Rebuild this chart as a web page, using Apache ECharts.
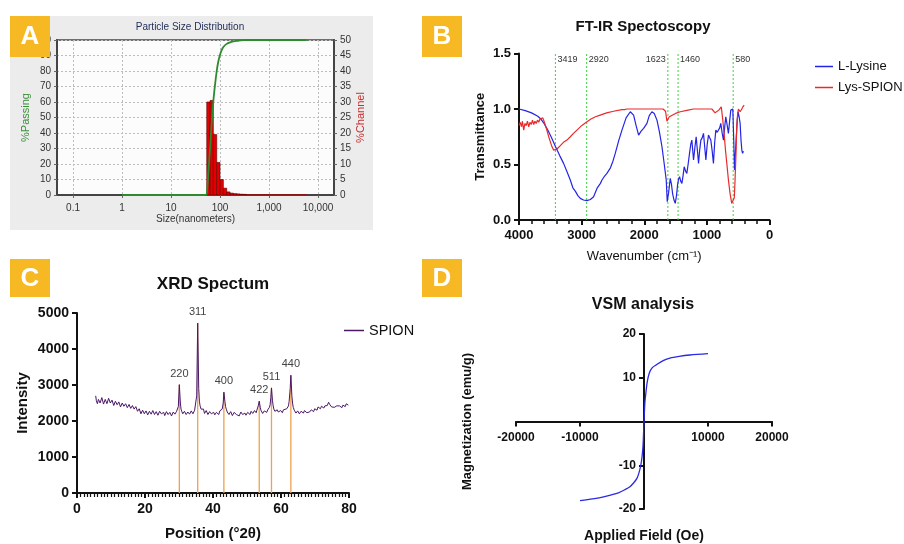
<!DOCTYPE html>
<html><head><meta charset="utf-8">
<script src="https://cdn.jsdelivr.net/npm/echarts@6/dist/echarts.min.js"></script>
<style>html,body{margin:0;padding:0;background:#fff}#c{width:904px;height:544px}</style>
</head><body><div id="c"></div>
<script>
// ---------- Panel A : Particle size distribution ----------
const psdCumulative = [[1,0],[50,0],[53.5,0.5],[58,15],[62.5,30],[67,45],[73,60.5],[79,71],[85.6,80],[92,86],[100,90.5],[108,93.5],[117,95.5],[137,97.5],[160,98.5],[187,99.1],[219,99.5],[256,99.7],[300,99.9],[350,100],[5900,100]];
const psdBinEdges = [53.5,62.5,73,85.6,100,117,137,160,187,219,256,299,350];
const psdChannel = [30,30.5,19.5,10.5,5,2.2,1,0.6,0.45,0.35,0.25,0.2];
const psdTail = [[350,0.12],[5900,0.12]];
const psdLeftTicks = [0,10,20,30,40,50,60,70,80,90,100];

// ---------- Panel B : FT-IR ----------
const lLysine = [[4000,1.0],[3900,0.985],[3800,0.965],[3700,0.935],[3660,0.915],[3600,0.87],[3540,0.81],[3480,0.74],[3416,0.66],[3350,0.58],[3288,0.51],[3230,0.43],[3181,0.36],[3140,0.29],[3101,0.26],[3060,0.22],[3021,0.195],[2970,0.18],[2915,0.174],[2860,0.185],[2809,0.21],[2750,0.29],[2700,0.33],[2675,0.36],[2640,0.39],[2596,0.42],[2540,0.47],[2500,0.53],[2463,0.60],[2410,0.71],[2356,0.81],[2290,0.92],[2223,0.975],[2200,0.975],[2170,0.945],[2130,0.85],[2090,0.765],[2050,0.80],[2010,0.826],[1957,0.87],[1920,0.94],[1877,0.975],[1840,0.96],[1797,0.90],[1760,0.80],[1717,0.66],[1680,0.5],[1649,0.36],[1633,0.165],[1610,0.25],[1585,0.375],[1565,0.32],[1548,0.24],[1525,0.18],[1505,0.15],[1485,0.22],[1468,0.315],[1452,0.37],[1436,0.39],[1418,0.35],[1399,0.33],[1380,0.40],[1362,0.48],[1340,0.44],[1320,0.42],[1300,0.50],[1277,0.60],[1258,0.68],[1240,0.72],[1225,0.62],[1213,0.54],[1190,0.66],[1171,0.75],[1150,0.62],[1133,0.51],[1115,0.63],[1096,0.72],[1075,0.74],[1054,0.78],[1035,0.66],[1016,0.54],[995,0.68],[974,0.765],[955,0.74],[937,0.72],[915,0.62],[895,0.51],[875,0.70],[857,0.81],[835,0.79],[815,0.78],[795,0.83],[778,0.87],[755,0.78],[735,0.72],[715,0.84],[698,0.93],[675,0.85],[656,0.78],[635,0.9],[618,0.99],[600,1.0],[586,1.0],[570,0.7],[559,0.45],[545,0.6],[533,0.72],[515,0.9],[501,0.975],[485,0.93],[469,0.87],[455,0.72],[442,0.63],[430,0.6],[416,0.62]];
const lysSpion = [[4000,0.85],[3980,0.88],[3960,0.84],[3945,0.89],[3925,0.81],[3905,0.87],[3885,0.85],[3865,0.89],[3845,0.84],[3825,0.88],[3805,0.86],[3785,0.90],[3765,0.86],[3745,0.89],[3725,0.87],[3705,0.90],[3685,0.88],[3665,0.91],[3645,0.90],[3620,0.92],[3600,0.89],[3560,0.82],[3520,0.74],[3480,0.67],[3448,0.63],[3420,0.62],[3393,0.64],[3340,0.67],[3290,0.70],[3235,0.72],[3180,0.75],[3130,0.78],[3075,0.81],[3000,0.85],[2915,0.885],[2850,0.91],[2780,0.93],[2702,0.945],[2600,0.965],[2490,0.98],[2400,0.99],[2356,0.995],[2335,0.98],[2315,0.995],[2277,1.0],[2000,1.0],[1700,1.0],[1660,0.98],[1638,0.89],[1620,0.9],[1600,0.93],[1585,0.945],[1500,0.96],[1425,0.975],[1300,0.99],[1213,1.0],[921,1.0],[890,0.985],[868,0.966],[840,0.975],[810,0.99],[788,1.005],[770,1.02],[746,0.9],[725,0.78],[703,0.63],[680,0.5],[656,0.36],[630,0.24],[603,0.15],[576,0.135],[562,0.2],[550,0.36],[535,0.6],[523,0.84],[510,0.95],[496,1.0],[483,0.99],[469,0.975],[455,0.99],[442,1.0],[425,1.02],[405,1.035]];
const irPeaks = [3419,2920,1623,1460,580];

// ---------- Panel C : XRD ----------
const xrdSpion = [[5.5,2700],[5.7,2560],[6.0,2480],[6.3,2600],[6.5,2640],[6.8,2500],[7.0,2520],[7.3,2650],[7.5,2610],[7.8,2470],[8.0,2450],[8.3,2600],[8.5,2580],[8.8,2480],[9.0,2490],[9.3,2630],[9.5,2620],[9.8,2500],[10.0,2470],[10.3,2580],[10.5,2560],[10.8,2430],[11.0,2420],[11.3,2550],[11.5,2530],[11.8,2450],[12.0,2440],[12.3,2530],[12.5,2500],[12.8,2390],[13.0,2380],[13.3,2500],[13.5,2490],[13.8,2410],[14.0,2400],[14.3,2480],[14.5,2470],[14.8,2370],[15.0,2360],[15.3,2460],[15.5,2450],[15.8,2350],[16.0,2340],[16.3,2430],[16.5,2420],[16.8,2330],[17.0,2320],[17.3,2400],[17.5,2380],[17.8,2270],[18.0,2260],[18.3,2340],[18.5,2330],[18.8,2200],[19.0,2180],[19.3,2300],[19.5,2290],[19.8,2200],[20.0,2200],[20.3,2280],[20.5,2270],[20.8,2170],[21.0,2170],[21.3,2270],[21.5,2260],[21.8,2190],[22.0,2190],[22.3,2290],[22.5,2280],[22.8,2180],[23.0,2180],[23.3,2260],[23.5,2250],[23.8,2160],[24.0,2160],[24.3,2270],[24.5,2270],[24.8,2200],[25.0,2200],[25.3,2250],[25.5,2240],[25.8,2150],[26.0,2150],[26.3,2260],[26.5,2260],[26.8,2180],[27.0,2180],[27.3,2240],[27.5,2230],[27.8,2140],[28.0,2140],[28.3,2250],[28.5,2250],[28.8,2190],[29.0,2190],[29.3,2270],[29.5,2280],[29.8,2400],[30.1,3010],[30.4,2500],[30.6,2330],[30.8,2270],[31.1,2200],[31.3,2190],[31.6,2270],[31.8,2260],[32.1,2180],[32.3,2170],[32.6,2250],[32.8,2240],[33.1,2190],[33.3,2180],[33.6,2280],[33.8,2270],[34.1,2200],[34.3,2210],[34.6,2300],[34.8,2330],[35.2,2700],[35.5,4720],[35.8,2900],[36.0,2550],[36.2,2420],[36.5,2330],[36.7,2290],[37.0,2340],[37.2,2330],[37.5,2210],[37.7,2200],[38.0,2290],[38.2,2280],[38.5,2180],[38.7,2170],[39.0,2260],[39.2,2250],[39.5,2200],[39.7,2190],[40.0,2250],[40.2,2240],[40.5,2170],[40.7,2160],[41.0,2240],[41.2,2230],[41.5,2190],[41.7,2180],[42.0,2280],[42.2,2270],[42.5,2300],[42.7,2330],[43.0,2500],[43.2,2800],[43.5,2550],[43.7,2400],[43.9,2330],[44.2,2250],[44.4,2240],[44.7,2180],[44.9,2170],[45.2,2260],[45.4,2250],[45.7,2150],[45.9,2140],[46.2,2240],[46.4,2230],[46.7,2190],[46.9,2180],[47.2,2220],[47.4,2210],[47.7,2140],[47.9,2130],[48.2,2250],[48.4,2240],[48.7,2180],[48.9,2170],[49.2,2230],[49.4,2220],[49.7,2160],[49.9,2150],[50.2,2240],[50.4,2230],[50.7,2190],[50.9,2180],[51.2,2270],[51.4,2260],[51.7,2210],[51.9,2200],[52.2,2290],[52.4,2280],[52.7,2230],[52.9,2300],[53.3,2420],[53.6,2550],[53.9,2380],[54.1,2300],[54.3,2260],[54.6,2210],[54.8,2200],[55.1,2280],[55.3,2270],[55.6,2250],[55.8,2240],[56.1,2310],[56.3,2300],[56.6,2380],[56.8,2450],[57.0,2650],[57.2,2920],[57.5,2560],[57.7,2420],[57.9,2330],[58.2,2270],[58.4,2260],[58.7,2320],[58.9,2310],[59.2,2250],[59.4,2240],[59.7,2300],[59.9,2290],[60.2,2240],[60.4,2230],[60.7,2310],[60.9,2300],[61.2,2280],[61.4,2280],[61.7,2340],[61.9,2350],[62.2,2420],[62.4,2550],[62.7,2900],[62.9,3270],[63.2,2700],[63.4,2500],[63.6,2380],[63.9,2300],[64.1,2290],[64.4,2220],[64.6,2210],[64.9,2280],[65.1,2270],[65.4,2200],[65.6,2190],[65.9,2270],[66.1,2260],[66.4,2230],[66.6,2220],[66.9,2290],[67.1,2280],[67.4,2240],[67.6,2230],[67.9,2280],[68.1,2270],[68.4,2250],[68.6,2240],[68.9,2310],[69.1,2300],[69.4,2270],[69.6,2260],[69.9,2340],[70.1,2330],[70.4,2310],[70.6,2300],[70.9,2390],[71.1,2380],[71.4,2350],[71.6,2340],[71.9,2410],[72.1,2400],[72.4,2370],[72.6,2360],[72.9,2420],[73.1,2410],[73.4,2440],[73.6,2430],[73.8,2480],[74.0,2520],[74.2,2490],[74.4,2450],[74.7,2400],[74.9,2390],[75.2,2440],[75.4,2430],[75.7,2380],[75.9,2370],[76.2,2430],[76.4,2420],[76.7,2390],[76.9,2380],[77.2,2420],[77.4,2410],[77.7,2380],[77.9,2370],[78.2,2440],[78.4,2430],[78.7,2410],[78.9,2400],[79.2,2480],[79.4,2470],[79.6,2430],[79.8,2440]];
const xrdPeaks = [[30.1,3010,'220'],[35.5,4720,'311'],[43.2,2800,'400'],[53.6,2550,'422'],[57.2,2920,'511'],[62.9,3270,'440']];

// ---------- Panel D : VSM ----------
const vsmCurve = [[-10000,-18.1],[-8000,-17.7],[-6000,-17.1],[-4000,-16.3],[-3000,-15.6],[-2200,-14.9],[-1600,-14.0],[-1100,-13.0],[-800,-11.8],[-500,-10.0],[-300,-8.0],[-150,-5.5],[0,0],[150,4.5],[300,6.6],[500,9.0],[830,11.1],[1300,12.3],[1970,13.0],[3000,13.9],[4050,14.5],[5500,14.9],[7170,15.2],[10000,15.5]];

// ---------- styling ----------
const AR = '"Liberation Sans", Arial, sans-serif';
const blackAxis = {lineStyle:{color:'#111', width:2}};
const boldLbl = (sz)=>({color:'#111', fontFamily:AR, fontWeight:'bold', fontSize:sz});
const plain = v => String(v);

function fmtLog(v){
  const e = Math.round(Math.log10(v));
  const p = Math.pow(10, e);
  if (Math.abs(v - p) > 1e-6 * p) return '';
  if (e < 0) return String(p);
  return p.toLocaleString('en-US');
}

const chart = echarts.init(document.getElementById('c'), null, {renderer:'canvas'});
const option = {
  animation:false,
  backgroundColor:'#ffffff',
  textStyle:{fontFamily:AR},
  grid:[
    {left:57, top:40, width:277, height:155, show:true, backgroundColor:'#fcfcfc', borderColor:'#444', borderWidth:1.5, containLabel:false, outerBoundsMode:'none'},
    {left:519, top:53.5, width:250.5, height:166.5, containLabel:false, outerBoundsMode:'none'},
    {left:77, top:313, width:272, height:180, containLabel:false, outerBoundsMode:'none'},
    {left:516, top:334, width:256, height:175, containLabel:false, outerBoundsMode:'none'}
  ],
  xAxis:[
    {gridIndex:0, type:'log', logBase:10, min:0.047, max:21200,
     name:'Size(nanometers)', nameLocation:'middle', nameGap:19, nameMoveOverlap:false,
     nameTextStyle:{color:'#333', fontSize:10, fontFamily:AR},
     axisLine:{show:true, lineStyle:{color:'#444', width:2}},
     axisTick:{show:true, length:3, lineStyle:{color:'#666'}},
     axisLabel:{formatter:fmtLog, color:'#333', fontSize:10, margin:8, showMinLabel:false, showMaxLabel:false},
     splitLine:{show:true, lineStyle:{color:'#bdbdbd', type:[2,2], width:1}}},
    {gridIndex:1, type:'value', inverse:true, min:0, max:4000, interval:1000,
     name:'Wavenumber (cm\u207B\u00B9)', nameLocation:'middle', nameGap:30, nameMoveOverlap:false,
     nameTextStyle:{color:'#111', fontSize:13, fontFamily:AR},
     axisLine:Object.assign({onZero:false}, blackAxis), axisTick:{length:5, lineStyle:{color:'#111', width:2}},
     minorTick:{show:true, splitNumber:5, length:4, lineStyle:{color:'#111', width:1.5}},
     axisLabel:Object.assign(boldLbl(13), {margin:9, formatter:plain}), splitLine:{show:false}},
    {gridIndex:2, type:'value', min:0, max:80, interval:20,
     name:'Position (\u00B02\u03B8)', nameLocation:'middle', nameGap:33, nameMoveOverlap:false,
     nameTextStyle:{color:'#111', fontSize:15, fontWeight:'bold', fontFamily:AR},
     axisLine:Object.assign({onZero:false}, blackAxis), axisTick:{length:5, lineStyle:{color:'#111', width:2}},
     minorTick:{show:true, splitNumber:20, length:4, lineStyle:{color:'#111', width:1.2}},
     axisLabel:Object.assign(boldLbl(14), {margin:9, formatter:plain}), splitLine:{show:false}},
    {gridIndex:3, type:'value', min:-20000, max:20000, interval:10000, offset:-87.5,
     name:'Applied Field (Oe)', nameLocation:'middle', nameGap:108, nameMoveOverlap:false,
     nameTextStyle:{color:'#111', fontSize:14, fontWeight:'bold', fontFamily:AR},
     axisLine:Object.assign({onZero:false}, blackAxis), axisTick:{length:5, lineStyle:{color:'#111', width:2}},
     axisLabel:Object.assign(boldLbl(12), {margin:10, formatter:v=> v===0?'':String(v)}), splitLine:{show:false}}
  ],
  yAxis:[
    {gridIndex:0, type:'value', min:0, max:100, interval:10,
     name:'%Passing', nameLocation:'middle', nameGap:26, nameMoveOverlap:false,
     nameTextStyle:{color:'#3b8f3b', fontSize:11, fontFamily:AR},
     axisLine:{show:true, onZero:false, lineStyle:{color:'#444', width:2}},
     axisTick:{show:true, length:3, lineStyle:{color:'#666'}},
     axisLabel:{color:'#333', fontSize:10, margin:6, formatter:v=>psdLeftTicks.indexOf(v)>=0?String(v):''},
     splitLine:{show:true, lineStyle:{color:'#bdbdbd', type:[2,2], width:1}}},
    {gridIndex:0, type:'value', position:'right', min:0, max:50, interval:5,
     name:'%Channel', nameLocation:'middle', nameGap:21, nameMoveOverlap:false,
     nameTextStyle:{color:'#c8302f', fontSize:11, fontFamily:AR},
     axisLine:{show:true, onZero:false, lineStyle:{color:'#444', width:2}},
     axisTick:{show:true, length:3, lineStyle:{color:'#666'}},
     axisLabel:{color:'#333', fontSize:10, margin:6}, splitLine:{show:false}},
    {gridIndex:1, type:'value', min:0, max:1.5, interval:0.5,
     name:'Transmittance', nameLocation:'middle', nameGap:32, nameMoveOverlap:false,
     nameTextStyle:{color:'#111', fontSize:13, fontWeight:'bold', fontFamily:AR},
     axisLine:Object.assign({show:true, onZero:false}, blackAxis), axisTick:{show:true, length:5, lineStyle:{color:'#111', width:2}},
     axisLabel:Object.assign(boldLbl(13), {margin:8, formatter:v=>v.toFixed(1)}), splitLine:{show:false}},
    {gridIndex:2, type:'value', min:0, max:5000, interval:1000,
     name:'Intensity', nameLocation:'middle', nameGap:47, nameMoveOverlap:false,
     nameTextStyle:{color:'#111', fontSize:15, fontWeight:'bold', fontFamily:AR},
     axisLine:Object.assign({show:true, onZero:false}, blackAxis), axisTick:{show:true, length:5, lineStyle:{color:'#111', width:2}},
     axisLabel:Object.assign(boldLbl(14), {margin:8, formatter:plain}), splitLine:{show:false}},
    {gridIndex:3, type:'value', min:-20, max:20, interval:10, offset:-128,
     name:'Magnetization (emu/g)', nameLocation:'middle', nameGap:170, nameMoveOverlap:false,
     nameTextStyle:{color:'#111', fontSize:13, fontWeight:'bold', fontFamily:AR},
     axisLine:Object.assign({show:true, onZero:false}, blackAxis), axisTick:{show:true, length:5, lineStyle:{color:'#111', width:2}},
     axisLabel:Object.assign(boldLbl(12), {margin:8, formatter:v=> v===0?'':String(v)}), splitLine:{show:false}}
  ],
  legend:[
    {data:['L-Lysine','Lys-SPION'], orient:'vertical', left:810, top:55, icon:'rect', itemWidth:18, itemHeight:1.5, itemGap:8,
     textStyle:{color:'#111', fontSize:13, fontFamily:AR}},
    {data:['SPION'], left:339, top:318, icon:'rect', itemWidth:20, itemHeight:1.5,
     textStyle:{color:'#111', fontSize:14.5, fontFamily:AR}}
  ],
  series:[
    {name:'%Channel', type:'custom', xAxisIndex:0, yAxisIndex:1, clip:true, z:3,
     data: psdChannel.map((v,i)=>[psdBinEdges[i], psdBinEdges[i+1], v]),
     encode:{x:[0,1], y:2},
     renderItem:function(params, api){
       const p0 = api.coord([api.value(0), 0]);
       const p1 = api.coord([api.value(1), api.value(2)]);
       return {type:'rect', shape:{x:p0[0], y:p1[1], width:p1[0]-p0[0], height:p0[1]-p1[1]},
               style:{fill:'#e40000', stroke:'#5a0000', lineWidth:0.6}};
     }},
    {name:'channel tail', type:'line', xAxisIndex:0, yAxisIndex:1, data:psdTail, symbol:'none', z:3,
     lineStyle:{color:'#8a1818', width:1.5}},
    {name:'%Passing', type:'line', xAxisIndex:0, yAxisIndex:0, data:psdCumulative, symbol:'none', smooth:0.25, z:4,
     lineStyle:{color:'#2f8a2f', width:1.8}},

    {name:'IR markers', type:'custom', xAxisIndex:1, yAxisIndex:2, z:1, silent:true,
     data: irPeaks.map(w=>[w]), encode:{x:0},
     renderItem:function(params, api){
       const w = api.value(0);
       const b = api.coord([w, 0]);
       const t = api.coord([w, 1.5]);
       const onLeft = (w === 1623);
       return {type:'group', children:[
         {type:'line', shape:{x1:b[0], y1:b[1], x2:t[0], y2:t[1]}, style:{stroke:'#3fcf3f', lineWidth:1, lineDash:[2,2]}},
         {type:'text', x: t[0] + (onLeft ? -2 : 2), y: t[1] + 6,
          style:{text:String(w), fill:'#333', font:'9px "Liberation Sans", Arial', align: onLeft?'right':'left', verticalAlign:'middle'}}
       ]};
     }},
    {name:'L-Lysine', type:'line', xAxisIndex:1, yAxisIndex:2, data:lLysine, symbol:'none', z:3,
     itemStyle:{color:'#2424e6'}, lineStyle:{color:'#2424e6', width:1.2}},
    {name:'Lys-SPION', type:'line', xAxisIndex:1, yAxisIndex:2, data:lysSpion, symbol:'none', z:4,
     itemStyle:{color:'#ea2a2a'}, lineStyle:{color:'#ea2a2a', width:1.2}},

    {name:'XRD peaks', type:'custom', xAxisIndex:2, yAxisIndex:3, z:2, silent:true,
     data: xrdPeaks, encode:{x:0, y:1},
     renderItem:function(params, api){
       const t = api.value(0), h = api.value(1);
       const b = api.coord([t, 0]);
       const p = api.coord([t, h]);
       const lbl = xrdPeaks[params.dataIndex][2];
       return {type:'group', children:[
         {type:'line', shape:{x1:b[0], y1:b[1], x2:p[0], y2:p[1]}, style:{stroke:'#f0a04e', lineWidth:1.3}},
         {type:'text', x:p[0], y:p[1]-11,
          style:{text:lbl, fill:'#444', font:'11px "Liberation Sans", Arial', align:'center', verticalAlign:'middle'}}
       ]};
     }},
    {name:'SPION', type:'line', xAxisIndex:2, yAxisIndex:3, data:xrdSpion, symbol:'none', z:3,
     itemStyle:{color:'#4b1866'}, lineStyle:{color:'#4b1866', width:1}},

    {name:'VSM', type:'line', xAxisIndex:3, yAxisIndex:4, data:vsmCurve, symbol:'none', smooth:0.3, z:3,
     lineStyle:{color:'#2a2ae0', width:1.3}}
  ],
  graphic:[
    {type:'rect', z:-1, shape:{x:10, y:16, width:363, height:214}, style:{fill:'#ececec'}},
    {type:'text', z:10, x:190, y:27, style:{text:'Particle Size Distribution', fill:'#1f2b57', font:'10px "Liberation Sans", Arial', align:'center', verticalAlign:'middle'}},
    {type:'text', z:10, x:643, y:27, style:{text:'FT-IR Spectoscopy', fill:'#111', font:'bold 15px "Liberation Sans", Arial', align:'center', verticalAlign:'middle'}},
    {type:'text', z:10, x:213, y:284, style:{text:'XRD Spectum', fill:'#111', font:'bold 17px "Liberation Sans", Arial', align:'center', verticalAlign:'middle'}},
    {type:'text', z:10, x:643, y:305, style:{text:'VSM analysis', fill:'#111', font:'bold 16px "Liberation Sans", Arial', align:'center', verticalAlign:'middle'}},
    {type:'rect', z:100, shape:{x:10, y:16, width:40, height:41}, style:{fill:'#f6b924'}},
    {type:'text', z:101, x:30, y:37, style:{text:'A', fill:'#fff', font:'bold 26px "Liberation Sans", Arial', align:'center', verticalAlign:'middle'}},
    {type:'rect', z:100, shape:{x:422, y:16, width:40, height:41}, style:{fill:'#f6b924'}},
    {type:'text', z:101, x:442, y:37, style:{text:'B', fill:'#fff', font:'bold 26px "Liberation Sans", Arial', align:'center', verticalAlign:'middle'}},
    {type:'rect', z:100, shape:{x:10, y:259, width:40, height:38}, style:{fill:'#f6b924'}},
    {type:'text', z:101, x:30, y:279, style:{text:'C', fill:'#fff', font:'bold 26px "Liberation Sans", Arial', align:'center', verticalAlign:'middle'}},
    {type:'rect', z:100, shape:{x:422, y:259, width:40, height:38}, style:{fill:'#f6b924'}},
    {type:'text', z:101, x:442, y:279, style:{text:'D', fill:'#fff', font:'bold 26px "Liberation Sans", Arial', align:'center', verticalAlign:'middle'}}
  ]
};
chart.setOption(option);
</script></body></html>
